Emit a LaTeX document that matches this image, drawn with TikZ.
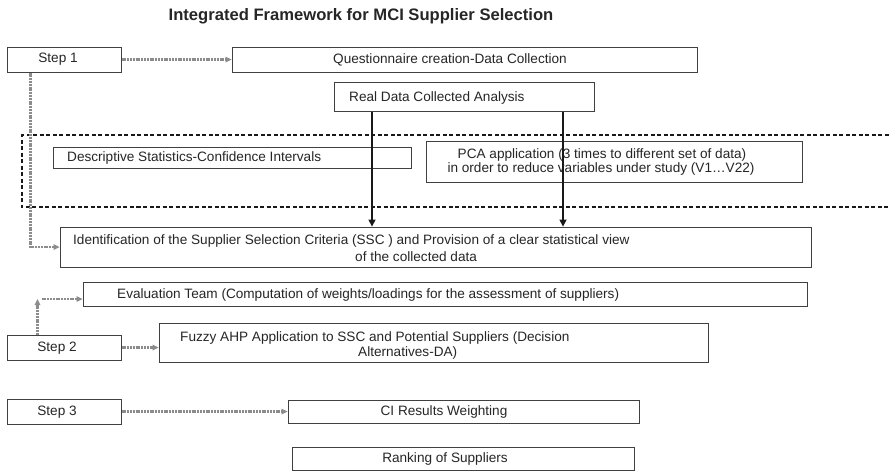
\documentclass[tikz,border=0pt]{standalone}
\usepackage{fontspec}
\setmainfont{Liberation Sans}
\usetikzlibrary{arrows.meta}
\begin{document}
\begin{tikzpicture}[x=1pt,y=-1pt,
  box/.style={draw=black!75, line width=1pt, fill=white, inner sep=0pt},
  lbl/.style={inner sep=0pt, font=\fontsize{13.6}{16}\selectfont, text=black!85},
  gar/.style={draw=black!45, line width=2.2pt, dash pattern=on 2pt off 0.8pt,
    -{Triangle[length=6pt,width=6pt,fill=black!45,line width=0pt]}},
  bar/.style={draw=black!90, line width=2.8pt,
    -{Triangle[length=7pt,width=7.5pt,line width=0pt]}},
  region/.style={draw=black!90, line width=1.5pt, dash pattern=on 4pt off 2.5pt}]
\useasboundingbox (0,0) rectangle (889,472);

% heading
\node[inner sep=0pt, font=\bfseries\fontsize{16.6}{19}\selectfont, text=black!85] (title) at (361,16)
  {Integrated Framework for MCI Supplier Selection};

% dashed region around the statistical analysis step
\draw[region] (895,135) -- (22,135) -- (22,207) -- (895,207);

% Step 1 chain
\node[box, minimum width=114pt, minimum height=25pt] (s1) at (64,59.5) {};
\node[lbl] (s1t) at (58,59.5) {Step 1};
\node[box, minimum width=465pt, minimum height=25pt] (q) at (464.5,59.5) {};
\node[lbl] (qt) at (450,59.5) {Questionnaire creation-Data Collection};
\node[box, minimum width=260pt, minimum height=29pt] (rd) at (464,96.5) {};
\node[lbl, anchor=west] (rdt) at (349,98) {Real Data Collected Analysis};
\node[box, minimum width=358pt, minimum height=21pt] (ds) at (232,157.5) {};
\node[lbl, anchor=west] (dst) at (67,158) {Descriptive Statistics-Confidence Intervals};
\node[box, minimum width=376pt, minimum height=41pt] (pca) at (614,161.5) {};
\node[lbl] (pca1) at (602,155) {PCA application (3 times to different set of data)};
\node[lbl] (pca2) at (601,169) {in order to reduce variables under study (V1\ldots V22)};
\node[box, minimum width=751pt, minimum height=40pt] (id) at (435.5,247) {};
\node[lbl, anchor=west] (id1) at (73,240.5) {Identification of the Supplier Selection Criteria (SSC ) and Provision of a clear statistical view};
\node[lbl, anchor=west] (id2) at (355,257) {of the collected data};

% Step 2 chain
\node[box, minimum width=724pt, minimum height=24pt] (ev) at (445,294) {};
\node[lbl, anchor=west] (evt) at (117,295) {Evaluation Team (Computation of weights/loadings for the assessment of suppliers)};
\node[box, minimum width=114pt, minimum height=25pt] (s2) at (64,347.5) {};
\node[lbl] (s2t) at (57,348) {Step 2};
\node[box, minimum width=549pt, minimum height=39pt] (fz) at (433.5,342.5) {};
\node[lbl, anchor=west] (fz1) at (180,337.5) {Fuzzy AHP Application to SSC and Potential Suppliers (Decision};
\node[lbl, anchor=west] (fz2) at (358,353) {Alternatives-DA)};

% Step 3 chain
\node[box, minimum width=114pt, minimum height=25pt] (s3) at (64,411.5) {};
\node[lbl] (s3t) at (57,412) {Step 3};
\node[box, minimum width=351pt, minimum height=23pt] (ci) at (463.5,411.5) {};
\node[lbl] (cit) at (444,412) {CI Results Weighting};
\node[box, minimum width=342pt, minimum height=23pt] (rk) at (463,458.5) {};
\node[lbl] (rkt) at (445,459) {Ranking of Suppliers};

% gray dotted connectors
\coordinate (c1) at (30.5,247);
\coordinate (c2) at (37.5,299);
\draw[gar] (s1) -- (q);
\draw[gar] (s1.south -| c1) -- (c1) -- (c1 -| id.west);
\draw[gar] (s2.north -| c2) -- (c2);
\draw[gar] ([xshift=4pt]c2) -- (c2 -| ev.west);
\draw[gar] (s2.east |- 0,347.5) -- (fz.west |- 0,347.5);
\draw[gar] (s3) -- (ci);

% black data-flow arrows
\coordinate (xa) at (372,0);
\coordinate (xb) at (563,0);
\draw[bar] (rd.south -| xa) -- (id.north -| xa);
\draw[bar] (rd.south -| xb) -- (id.north -| xb);
\end{tikzpicture}
\end{document}
